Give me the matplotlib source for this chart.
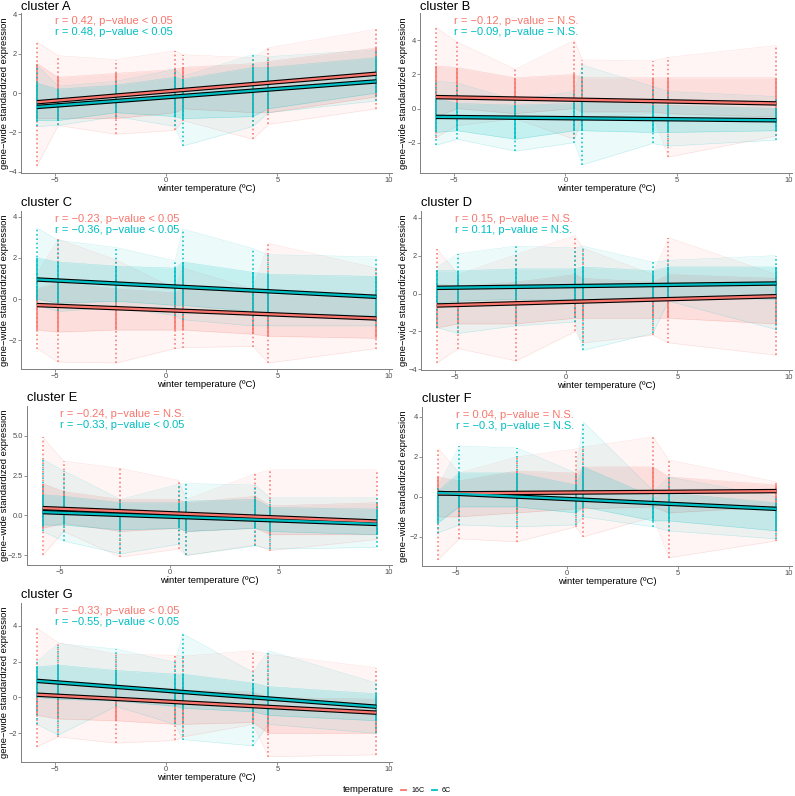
import matplotlib
matplotlib.use("Agg")
import matplotlib.pyplot as plt
import numpy as np

plt.rcParams['font.family'] = ['Liberation Sans', 'DejaVu Sans']

# ---------------- data ----------------
winter_temp = [-5.8, -4.85, -2.25, 0.4, 0.75, 3.9, 4.6, 9.45]
clusters = ["A", "B", "C", "D", "E", "F", "G"]
groups = ["16C", "6C"]

# per cluster / treatment: max, upper core, lower core, min of gene-wide standardized expression
A16_max = [2.6, 1.9, 1.7, 2.15, 1.95, 1.8, 2.3, 3.25]
A16_qhi = [1.5, 0.8, 1.0, 1.2, 1.3, 1.5, 1.6, 2.3]
A16_qlo = [-1.3, -1.3, -1.3, -1.0, -0.8, -1.0, -1.0, -0.2]
A16_min = [-3.7, -1.65, -2.1, -1.9, -1.4, -2.35, -1.6, -0.8]
A6_max = [1.4, 0.35, 0.6, 1.2, 0.85, 1.95, 1.85, 2.2]
A6_qhi = [0.5, 0.2, 0.4, 0.8, 0.7, 1.3, 1.3, 1.8]
A6_qlo = [-1.4, -1.4, -1.0, -1.2, -1.3, -1.2, -0.8, 0.0]
A6_min = [-1.7, -1.65, -1.2, -1.7, -2.7, -1.7, -1.0, -0.4]

B16_max = [4.75, 3.9, 2.3, 4.0, 2.85, 2.8, 3.0, 3.7]
B16_qhi = [2.5, 2.4, 1.8, 2.0, 1.8, 1.8, 1.8, 1.8]
B16_qlo = [-0.5, 0.0, -0.3, 0.0, -0.2, -0.2, -0.3, -0.5]
B16_min = [-1.7, -1.0, -0.6, -1.8, -0.5, -0.3, -2.85, -1.6]
B6_max = [1.6, 1.5, 0.5, 1.0, 2.55, 1.3, 1.0, 0.7]
B6_qhi = [0.6, 0.3, 0.2, 0.3, 0.5, 0.2, 0.2, 0.0]
B6_qlo = [-1.4, -1.3, -1.8, -1.3, -1.3, -1.4, -1.4, -1.3]
B6_min = [-2.15, -1.8, -2.5, -2.0, -3.3, -2.05, -2.2, -1.85]

C16_max = [1.2, 2.9, 1.9, 0.5, 1.5, 0.5, 2.7, 1.5]
C16_qhi = [0.5, 0.8, 0.5, 0.3, 0.5, 0.3, 0.2, 0.0]
C16_qlo = [-1.5, -1.6, -1.5, -1.5, -1.5, -1.7, -1.8, -1.9]
C16_min = [-2.4, -3.05, -3.1, -2.4, -2.35, -2.3, -3.1, -2.4]
C6_max = [3.45, 2.85, 2.5, 1.85, 3.4, 2.45, 2.15, 2.05]
C6_qhi = [2.0, 1.8, 1.6, 1.5, 1.8, 1.3, 1.2, 1.1]
C6_qlo = [0.0, -0.2, -0.1, -0.3, -0.3, -0.6, -0.7, -0.8]
C6_min = [-0.3, -0.6, -0.4, -0.8, -1.0, -1.3, -1.3, -1.3]

D16_max = [2.35, 1.0, 2.05, 3.05, 2.4, 1.0, 2.95, 1.0]
D16_qhi = [0.5, 0.4, 0.6, 1.0, 0.8, 0.6, 1.0, 0.8]
D16_qlo = [-1.8, -1.6, -1.6, -1.3, -1.3, -1.3, -1.3, -1.6]
D16_min = [-3.65, -2.9, -3.55, -2.0, -2.6, -2.2, -2.6, -3.25]
D6_max = [1.4, 2.1, 2.5, 2.4, 2.5, 1.65, 1.75, 2.0]
D6_qhi = [1.2, 1.2, 1.3, 1.3, 1.4, 1.2, 1.4, 1.4]
D6_qlo = [-0.5, -0.4, -0.3, -0.3, -0.3, -0.3, -0.2, -0.3]
D6_min = [-1.8, -2.1, -1.7, -1.5, -3.0, -2.1, -0.4, -1.9]

E16_max = [4.9, 3.4, 2.95, 2.2, 1.0, 2.6, 2.85, 2.85]
E16_qhi = [2.0, 1.5, 1.0, 1.0, 0.8, 1.2, 0.6, 0.8]
E16_qlo = [-0.8, -0.5, -1.0, -0.8, -1.0, -0.8, -1.2, -1.2]
E16_min = [-2.5, -1.0, -2.6, -2.1, -2.5, -1.85, -2.2, -1.5]
E6_max = [3.5, 2.8, 1.0, 1.95, 2.0, 1.9, 1.1, 1.1]
E6_qhi = [1.3, 1.2, 0.8, 0.8, 0.9, 1.0, 0.5, 0.4]
E6_qlo = [-0.6, -0.6, -0.9, -0.8, -1.0, -0.8, -1.0, -1.2]
E6_min = [-1.0, -1.6, -2.4, -1.8, -2.5, -1.9, -2.1, -2.0]

F16_max = [2.45, 1.2, 2.0, 2.4, 2.5, 3.0, 1.85, 0.75]
F16_qhi = [1.0, 0.8, 1.3, 1.2, 1.5, 1.5, 1.0, 0.6]
F16_qlo = [-1.0, -1.0, -0.8, -0.6, -0.6, -0.5, -0.8, -0.5]
F16_min = [-3.15, -2.1, -2.25, -1.5, -2.0, -1.0, -3.05, -2.2]
F6_max = [0.5, 2.55, 2.45, 1.2, 3.75, 0.3, 1.0, 0.0]
F6_qhi = [0.3, 1.2, 1.2, 0.6, 1.5, 0.0, 0.2, -0.3]
F6_qlo = [-1.3, -0.5, -0.5, -0.8, -0.5, -1.2, -1.2, -1.7]
F6_min = [-1.8, -1.4, -1.5, -1.4, -1.0, -1.5, -1.7, -2.1]

G16_max = [3.85, 3.05, 2.4, 2.35, 2.3, 2.6, 2.4, 1.65]
G16_qhi = [1.0, 0.9, 0.6, 0.5, 0.4, 0.3, 0.0, -0.1]
G16_qlo = [-1.0, -1.2, -1.3, -1.5, -1.5, -1.4, -2.0, -2.0]
G16_min = [-2.75, -2.2, -2.55, -2.4, -2.2, -1.5, -3.3, -3.2]
G6_max = [2.0, 3.0, 2.7, 1.95, 3.55, 1.4, 2.6, 0.8]
G6_qhi = [1.7, 1.8, 1.5, 1.3, 1.3, 0.8, 0.6, 0.2]
G6_qlo = [0.0, -0.1, -0.2, -0.5, -0.6, -0.8, -1.0, -1.3]
G6_min = [-1.5, -2.1, -0.5, -1.5, -2.35, -2.7, -1.5, -2.0]

# linear fits: value at first and last winter temperature
fit16_start = [-0.47, 0.67, -0.29, -0.63, 0.46, 0.17, 0.15]
fit16_end = [0.98, 0.30, -0.94, -0.14, -0.38, 0.29, -0.85]
fit6_start = [-0.71, -0.49, 0.95, 0.30, 0.21, 0.20, 0.92]
fit6_end = [0.59, -0.69, 0.11, 0.53, -0.53, -0.60, -0.52]

label16 = ["r = 0.42, p\u2212value < 0.05", "r = \u22120.12, p\u2212value = N.S.",
           "r = \u22120.23, p\u2212value < 0.05", "r = 0.15, p\u2212value = N.S.",
           "r = \u22120.24, p\u2212value = N.S.", "r = 0.04, p\u2212value = N.S.",
           "r = \u22120.33, p\u2212value < 0.05"]
label6 = ["r = 0.48, p\u2212value < 0.05", "r = \u22120.09, p\u2212value = N.S.",
          "r = \u22120.36, p\u2212value < 0.05", "r = 0.11, p\u2212value = N.S.",
          "r = \u22120.33, p\u2212value < 0.05", "r = \u22120.3, p\u2212value = N.S.",
          "r = \u22120.55, p\u2212value < 0.05"]

y_ticks = [[-4, -2, 0, 2, 4], [-2, 0, 2, 4], [-2, 0, 2, 4], [-4, -2, 0, 2, 4],
           [-2.5, 0.0, 2.5, 5.0], [-2, 0, 2, 4], [-2, 0, 2, 4]]

# ---------------- layout (pixels) ----------------
W, H = 795, 796
boxes = {"A": (21, 392, 13, 173), "B": (420, 792, 13, 173),
         "C": (21, 392, 211, 369), "D": (421, 792, 211, 370),
         "E": (27, 392, 406, 565), "F": (422, 792, 407, 566),
         "G": (21, 392, 603, 762)}
ylims = {"A": (-4.07, 4.07), "B": (-3.78, 5.6), "C": (-3.39, 4.27),
         "D": (-4.03, 4.35), "E": (-3.1, 6.85), "F": (-3.46, 4.5),
         "G": (-3.6, 5.26)}

RED = "#F8766D"
CYAN = "#00BFC4"
AXC = "#7F7F7F"
TXT = "#4D4D4D"

fig = plt.figure(figsize=(W / 100, H / 100), dpi=100)

g = globals()
x = np.array(winter_temp)
for i, c in enumerate(clusters):
    l, r, t, b = boxes[c]
    ax = fig.add_axes([l / W, 1 - b / H, (r - l) / W, (b - t) / H])
    for grp, col in [("16", RED), ("6", CYAN)]:
        mx = np.array(g[f"{c}{grp}_max"])
        qh = np.array(g[f"{c}{grp}_qhi"])
        ql = np.array(g[f"{c}{grp}_qlo"])
        mn = np.array(g[f"{c}{grp}_min"])
        ax.fill_between(x, mn, mx, color=col, alpha=0.07, lw=0, zorder=1)
        ax.fill_between(x, ql, qh, color=col, alpha=0.17, lw=0, zorder=1)
        for arr, a in [(mx, 0.25), (mn, 0.25), (qh, 0.35), (ql, 0.35)]:
            ax.plot(x, arr, color=col, lw=0.3, alpha=a, zorder=1)
    for grp, col in [("16", RED), ("6", CYAN)]:
        mx = np.array(g[f"{c}{grp}_max"])
        qh = np.array(g[f"{c}{grp}_qhi"])
        ql = np.array(g[f"{c}{grp}_qlo"])
        mn = np.array(g[f"{c}{grp}_min"])
        ax.vlines(x, mn, mx, color=col, lw=1.2, alpha=0.9, zorder=2,
                  linestyles=[(0, (1.0, 1.6))])
        ax.vlines(x, ql, qh, color=col, lw=1.2, alpha=0.95, zorder=2)
    for fs, fe, col in [(fit16_start[i], fit16_end[i], RED), (fit6_start[i], fit6_end[i], CYAN)]:
        ax.plot([x[0], x[-1]], [fs, fe], color="black", lw=3.2, zorder=3, solid_capstyle="butt")
        ax.plot([x[0], x[-1]], [fs, fe], color=col, lw=1.6, zorder=4, solid_capstyle="butt")

    ax.set_xlim(-6.52, 10.15)
    ax.set_ylim(*ylims[c])
    ax.set_xticks([-5, 0, 5, 10])
    ax.set_xticklabels(["\u22125", "0", "5", "10"])
    yt = y_ticks[i]
    ax.set_yticks(yt)
    if c == "E":
        ax.set_yticklabels([("\u2212" if v < 0 else "") + f"{abs(v):.1f}" for v in yt])
    else:
        ax.set_yticklabels([("\u2212" if v < 0 else "") + f"{abs(v):g}" for v in yt])
    for s in ["top", "right"]:
        ax.spines[s].set_visible(False)
    for s in ["left", "bottom"]:
        ax.spines[s].set_color(AXC)
        ax.spines[s].set_linewidth(0.7)
    ax.tick_params(axis="both", colors=AXC, length=2, width=0.6, labelsize=5.4,
                   labelcolor=TXT, pad=1.0)
    ax.set_facecolor("none")

    # annotations
    tr = ax.get_xaxis_transform()
    ax.text(-5.0, 0.952, label16[i], transform=tr, color=RED, fontsize=8, va="center", ha="left")
    ax.text(-5.0, 0.88, label6[i], transform=tr, color=CYAN, fontsize=8, va="center", ha="left")
    # title
    base = max(t - 5.5, 10.5)
    fig.text(l / W, 1 - base / H, f"cluster {c}", fontsize=9.3,
             va="baseline", ha="left", color="black")
    # axis labels
    fig.text((l + r) / 2 / W, 1 - (b + 15.5) / H, "winter temperature (\u00baC)", fontsize=6.8,
             ha="center", va="center", color="black")
    ylx = 5 if l < 200 else 403
    fig.text(ylx / W, 1 - (t + b) / 2 / H, "gene\u2212wide standardized expression", fontsize=6.8,
             rotation=90, ha="center", va="center", color="black")

# legend
fig.text(368 / W, 1 - 790 / H, "temperature", fontsize=6.8, ha="center", va="center")
leg_ax = fig.add_axes([0, 0, 1, 1], facecolor="none")
leg_ax.set_xlim(0, W)
leg_ax.set_ylim(H, 0)
leg_ax.axis("off")
leg_ax.plot([400.5, 405.5], [790, 790], color=RED, lw=1.3)
leg_ax.plot([431.5, 436.5], [790, 790], color=CYAN, lw=1.3)
fig.text(412 / W, 1 - 790 / H, "16C", fontsize=5.1, ha="left", va="center")
fig.text(442 / W, 1 - 790 / H, "6C", fontsize=5.1, ha="left", va="center")

fig.savefig("out.png", dpi=100, facecolor="white")
